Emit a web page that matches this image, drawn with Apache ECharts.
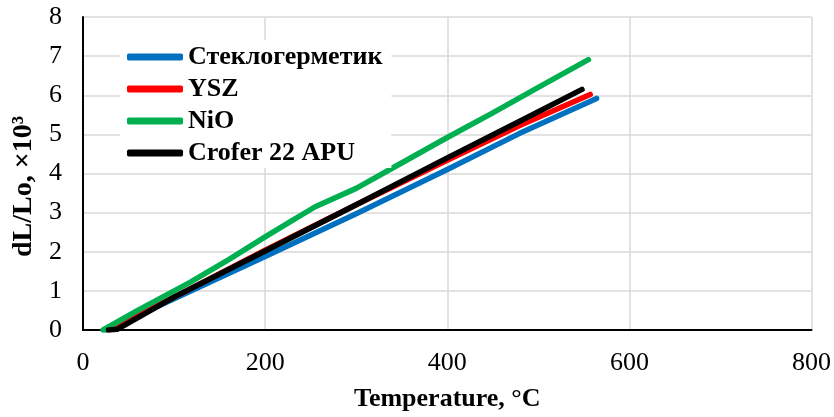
<!DOCTYPE html>
<html>
<head>
<meta charset="utf-8">
<script src="https://cdn.jsdelivr.net/npm/echarts@6/dist/echarts.min.js"></script>
<style>
  html, body { margin: 0; padding: 0; background: #fff; }
  #chart { width: 834px; height: 417px; }
</style>
</head>
<body>
<div id="chart"></div>
<script>
// Thermal expansion curves, dL/Lo (×10³) versus temperature (°C)
const seriesNames = ['Стеклогерметик', 'YSZ', 'NiO', 'Crofer 22 APU'];
const seriesColors = ['#0070C0', '#FF0000', '#00B050', '#000000'];

const sealantT = [25, 100, 200, 300, 400, 479, 564];
const sealantDL = [0, 0.80, 1.88, 2.97, 4.10, 5.02, 5.92];

const yszT = [28, 100, 200, 300, 400, 479, 557];
const yszDL = [0, 0.84, 2.04, 3.20, 4.34, 5.22, 6.02];

const nioT = [22, 60, 117, 160, 200, 230, 255, 300, 340, 400, 450, 500, 555];
const nioDL = [0, 0.50, 1.21, 1.80, 2.38, 2.80, 3.15, 3.62, 4.14, 4.92, 5.55, 6.20, 6.91];

const croferT = [28, 38, 100, 200, 300, 400, 479, 548];
const croferDL = [0, 0.02, 0.84, 2.02, 3.20, 4.40, 5.33, 6.15];

const xTicks = [0, 200, 400, 600, 800];
const yTicks = [0, 1, 2, 3, 4, 5, 6, 7, 8];

const temps = [sealantT, yszT, nioT, croferT];
const values = [sealantDL, yszDL, nioDL, croferDL];

const FONT = '"Liberation Serif", "Times New Roman", serif';

const chart = echarts.init(document.getElementById('chart'));

chart.setOption({
  backgroundColor: '#ffffff',
  animation: false,
  textStyle: { fontFamily: FONT, color: '#000' },
  grid: { left: 83, right: 22, top: 17, bottom: 86, containLabel: false },
  legend: {
    orient: 'vertical',
    left: 120,
    top: 40,
    padding: [4, 9, 2, 7],
    backgroundColor: '#ffffff',
    itemGap: 6,
    itemWidth: 56,
    itemHeight: 7,
    icon: 'roundRect',
    textStyle: { fontFamily: FONT, fontSize: 26, fontWeight: 'bold', color: '#000' },
    data: seriesNames
  },
  xAxis: {
    type: 'value',
    min: xTicks[0],
    max: xTicks[xTicks.length - 1],
    interval: 200,
    name: 'Temperature, °C',
    nameLocation: 'middle',
    nameGap: 56,
    nameTextStyle: { fontFamily: FONT, fontSize: 26, fontWeight: 'bold', color: '#000' },
    axisLine: { show: true, lineStyle: { color: '#000', width: 2 } },
    axisTick: { show: false },
    axisLabel: { margin: 20, fontFamily: FONT, fontSize: 26, color: '#000' },
    splitLine: { show: true, lineStyle: { color: '#d9d9d9', width: 1.5 } }
  },
  yAxis: {
    type: 'value',
    min: yTicks[0],
    max: yTicks[yTicks.length - 1],
    interval: 1,
    name: 'dL/Lo, ×10³',
    nameLocation: 'middle',
    nameGap: 43,
    nameTextStyle: { fontFamily: FONT, fontSize: 28, fontWeight: 'bold', color: '#000', padding: [0, 26, 0, 0] },
    axisLine: { show: true, lineStyle: { color: '#000', width: 2 } },
    axisTick: { show: false },
    axisLabel: { margin: 21, fontFamily: FONT, fontSize: 26, color: '#000' },
    splitLine: { show: true, lineStyle: { color: '#d9d9d9', width: 1.5 } }
  },
  series: seriesNames.map((name, i) => ({
    name: name,
    type: 'line',
    showSymbol: false,
    symbol: 'none',
    smooth: false,
    color: seriesColors[i],
    lineStyle: { color: seriesColors[i], width: 5.5, cap: 'round', join: 'round' },
    data: temps[i].map((t, k) => [t, values[i][k]])
  }))
});
</script>
</body>
</html>
